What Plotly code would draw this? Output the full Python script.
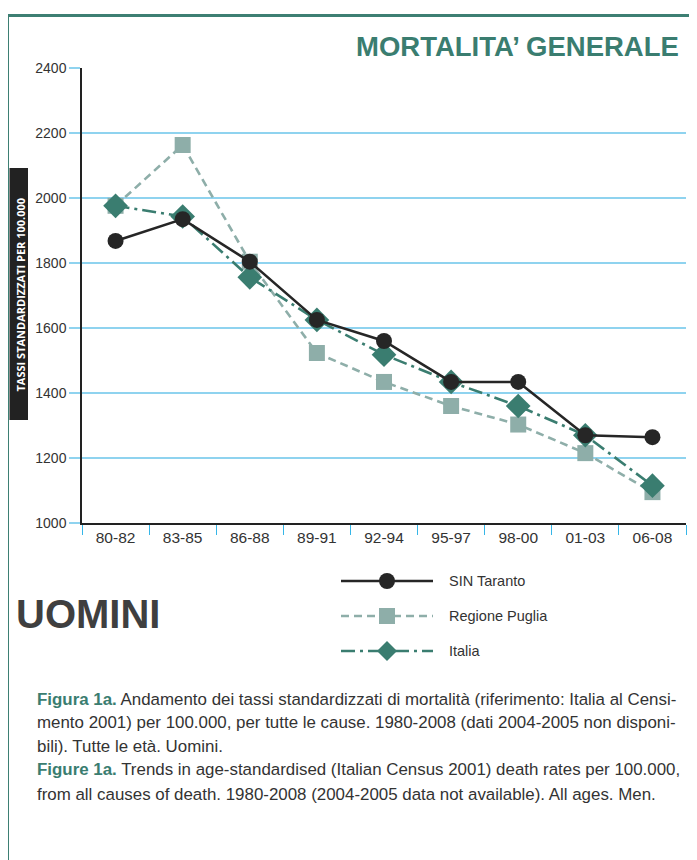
import plotly.graph_objects as go

categories = ["80-82", "83-85", "86-88", "89-91", "92-94", "95-97", "98-00", "01-03", "06-08"]
sin_taranto = [1868, 1935, 1804, 1625, 1560, 1434, 1434, 1270, 1264]
regione_puglia = [1976, 2163, 1804, 1523, 1434, 1360, 1303, 1215, 1095]
italia = [1976, 1943, 1756, 1625, 1518, 1434, 1360, 1270, 1115]
y_ticks = [1000, 1200, 1400, 1600, 1800, 2000, 2200, 2400]

OFF = 8  # page body margin
W, H = 697 - OFF, 860 - OFF
L, R, T, B = 82 - OFF, 686 - OFF, 68 - OFF, 523 - OFF
FONT = "Liberation Sans, Arial, sans-serif"

def px(x):
    return (x - OFF - L) / (R - L)

def py(y):
    return (B - (y - OFF)) / (B - T)

C_BLACK = "#262626"
C_PUGLIA = "#8eaea9"
C_ITALIA = "#3a7d70"
C_GRID = "#8fd3ef"
C_TEXT = "#333333"

fig = go.Figure()
fig.add_trace(go.Scatter(x=categories, y=regione_puglia, name="Regione Puglia", mode="lines+markers",
                         line=dict(color=C_PUGLIA, width=2.6, dash="8px,5px"),
                         marker=dict(symbol="square", size=16, color=C_PUGLIA)))
fig.add_trace(go.Scatter(x=categories, y=italia, name="Italia", mode="lines+markers",
                         line=dict(color=C_ITALIA, width=2.6, dash="14px,5px,3px,5px"),
                         marker=dict(symbol="diamond", size=19, color=C_ITALIA)))
fig.add_trace(go.Scatter(x=categories, y=sin_taranto, name="SIN Taranto", mode="lines+markers",
                         line=dict(color=C_BLACK, width=2.6),
                         marker=dict(symbol="circle", size=16, color=C_BLACK)))

shapes = []
ann = []

# frame
shapes.append(dict(type="line", xref="paper", yref="paper", x0=px(7.5), x1=px(710), y0=py(15.5), y1=py(15.5),
                   line=dict(color="#3d7f73", width=3)))
shapes.append(dict(type="line", xref="paper", yref="paper", x0=px(7.5), x1=px(7.5), y0=py(14), y1=py(880),
                   line=dict(color="#3d7f73", width=3)))
# y-axis label box
shapes.append(dict(type="rect", xref="paper", yref="paper", x0=px(9.5), x1=px(28), y0=py(168), y1=py(420),
                   fillcolor="#222222", line=dict(width=0), layer="above"))
ann.append(dict(xref="paper", yref="paper", x=px(19.5), y=py(295), text="<b>TASSI STANDARDIZZATI PER 100.000</b>",
                textangle=-90, showarrow=False, font=dict(family="Open Sans, sans-serif", size=11, color="white"),
                xanchor="center", yanchor="middle"))

# title
ann.append(dict(xref="paper", yref="paper", x=px(681), y=py(47), text="<b>MORTALITA’ GENERALE</b>",
                showarrow=False, xanchor="right", yanchor="middle",
                font=dict(family=FONT, size=27.5, color="#3a7d70")))
# UOMINI
ann.append(dict(xref="paper", yref="paper", x=px(14), y=py(614), text="<b>UOMINI</b>",
                showarrow=False, xanchor="left", yanchor="middle",
                font=dict(family=FONT, size=40, color="#3f3f3f")))

# legend (manual)
leg = [("SIN Taranto", C_BLACK, "solid", "circle", 581),
       ("Regione Puglia", C_PUGLIA, "8px,5px", "square", 616),
       ("Italia", C_ITALIA, "14px,5px,3px,5px", "diamond", 651)]
for name, col, dash, sym, yy in leg:
    shapes.append(dict(type="line", xref="paper", yref="paper", x0=px(341), x1=px(433), y0=py(yy), y1=py(yy),
                       line=dict(color=col, width=2.6, dash=dash)))
    cx = 387
    if sym == "circle":
        shapes.append(dict(type="circle", xref="paper", yref="paper", x0=px(cx - 8), x1=px(cx + 8),
                           y0=py(yy - 8), y1=py(yy + 8), fillcolor=col, line=dict(width=0)))
    elif sym == "square":
        shapes.append(dict(type="rect", xref="paper", yref="paper", x0=px(cx - 8), x1=px(cx + 8),
                           y0=py(yy - 8), y1=py(yy + 8), fillcolor=col, line=dict(width=0)))
    else:
        d = 10
        path = "M {} {} L {} {} L {} {} L {} {} Z".format(px(cx - d), py(yy), px(cx), py(yy - d),
                                                          px(cx + d), py(yy), px(cx), py(yy + d))
        shapes.append(dict(type="path", xref="paper", yref="paper", path=path, fillcolor=col, line=dict(width=0)))
    ann.append(dict(xref="paper", yref="paper", x=px(447), y=py(yy), text=name, showarrow=False,
                    xanchor="left", yanchor="middle", font=dict(family=FONT, size=14.5, color=C_TEXT)))

# caption
cap = [
    ("<b><span style='color:#3a7d70'>Figura 1a.</span></b> Andamento dei tassi standardizzati di mortalità (riferimento: Italia al Censi-", 699),
    ("mento 2001) per 100.000, per tutte le cause. 1980-2008 (dati 2004-2005 non disponi-", 722),
    ("bili). Tutte le età. Uomini.", 746),
    ("<b><span style='color:#3a7d70'>Figure 1a.</span></b> Trends in age-standardised (Italian Census 2001) death rates per 100.000,", 770),
    ("from all causes of death. 1980-2008 (2004-2005 data not available). All ages. Men.", 794),
]
for t, yy in cap:
    ann.append(dict(xref="paper", yref="paper", x=px(35), y=py(yy), text=t, showarrow=False,
                    xanchor="left", yanchor="middle", font=dict(family=FONT, size=16.9, color=C_TEXT)))

fig.update_layout(
    width=W, height=H, margin=dict(l=L, r=W - R, t=T, b=H - B),
    paper_bgcolor="white", plot_bgcolor="white", showlegend=False,
    shapes=shapes, annotations=ann,
    font=dict(family=FONT, color=C_TEXT),
)
fig.update_xaxes(type="category", categoryorder="array", categoryarray=categories,
                 range=[-0.5, len(categories) - 0.5],
                 showgrid=False, showline=True, linecolor="#222", linewidth=1.5,
                 ticks="outside", tickson="boundaries", ticklen=10, tickcolor="#35b6e8", tickwidth=1.2,
                 tickfont=dict(family=FONT, size=15.5, color=C_TEXT), zeroline=False)
fig.update_yaxes(range=[1000, 2400], tickvals=y_ticks, showgrid=True, gridcolor=C_GRID, gridwidth=1.5,
                 showline=True, linecolor="#222", linewidth=1.5,
                 ticks="outside", ticklen=11, tickcolor=C_GRID, tickwidth=1.5,
                 tickfont=dict(family=FONT, size=14, color=C_TEXT), zeroline=False)

fig.write_html("out.html")
